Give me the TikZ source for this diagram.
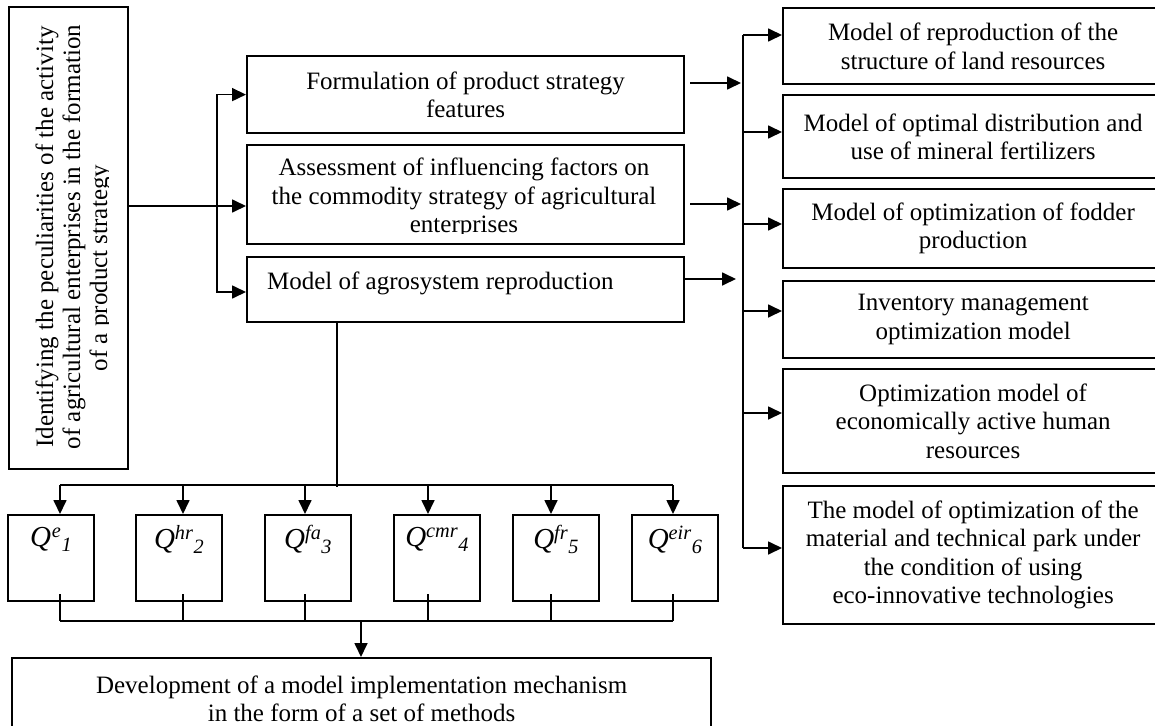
\documentclass[tikz,border=0pt]{standalone}
\usepackage{fontspec}
\setmainfont{Liberation Serif}
\usetikzlibrary{arrows.meta}
\begin{document}
\begin{tikzpicture}[x=1pt,y=-1pt,
  txt/.style={font=\fontsize{25}{28.5}\selectfont},
  box/.style={draw,line width=2.2pt,inner sep=0pt,align=center,anchor=north west,txt},
  conn/.style={line width=1.7pt},
  arr/.style={conn,-{Triangle[length=14pt,width=13pt]}},
  qbox/.style={box,minimum width=86pt,minimum height=86pt,font=\fontsize{29}{30}\selectfont\itshape,text depth=42pt}
]
\useasboundingbox (0,0) rectangle (1155,725);
\clip (0,0) rectangle (1155,725);
% left box
\node[box,minimum width=119pt,minimum height=462pt] (L) at (8,6) {};
\begin{scope}
\clip (10,8) rectangle (108,466);
\node[rotate=90,align=center,font=\fontsize{25}{27}\selectfont] (Lt) at (74,237)
 {Identifying the peculiarities of the activity\\of agricultural enterprises in the formation\\of a product strategy\makebox[62pt]{}};
\end{scope}
% middle boxes
\node[box,minimum width=437pt,minimum height=77pt] (b1) at (246,55) {Formulation of product strategy\\features};
\node[box,minimum width=437pt,minimum height=99pt] (b2) at (246,144) {};
\begin{scope}
\clip (248,146) rectangle (681,233);
\node[align=center,txt] (b2t) at (464,198) {Assessment of influencing factors on\\the commodity strategy of agricultural\\enterprises};
\end{scope}
\node[box,minimum width=437pt,minimum height=65pt,text width=397pt,align=flush left,text depth=18pt] (b3) at (246,256) {Model of agrosystem reproduction};
% right boxes
\node[box,minimum width=380pt,minimum height=76pt] (R1) at (782,7) {Model of reproduction of the\\structure of land resources};
\node[box,minimum width=380pt,minimum height=83pt] (R2) at (782,94) {Model of optimal distribution and\\use of mineral fertilizers};
\node[box,minimum width=380pt,minimum height=79pt] (R3) at (782,188) {Model of optimization of fodder\\production};
\node[box,minimum width=380pt,minimum height=77pt] (R4) at (782,280) {Inventory management\\optimization model};
\node[box,minimum width=380pt,minimum height=104pt] (R5) at (782,368) {Optimization model of\\economically active human\\resources};
\node[box,minimum width=380pt,minimum height=138pt] (R6) at (782,485) {The model of optimization of the\\material and technical park under\\the condition of using\\eco-innovative technologies};
% Q boxes
\node[qbox] (Q1) at (7,514) {Q\textsuperscript{\kern1pt e}\textsubscript{1}};
\node[qbox] (Q2) at (135,514) {Q\textsuperscript{hr}\textsubscript{2}};
\node[qbox] (Q3) at (264,514) {Q\textsuperscript{fa}\textsubscript{3}};
\node[qbox] (Q4) at (393,514) {Q\textsuperscript{cmr}\textsubscript{4}};
\node[qbox] (Q5) at (512,514) {Q\textsuperscript{fr}\textsubscript{5}};
\node[qbox] (Q6) at (631,514) {Q\textsuperscript{eir}\textsubscript{6}};
% bottom box
\node[box,minimum width=699pt,minimum height=81pt] (B) at (11,657) {Development of a model implementation mechanism\\in the form of a set of methods};
% left connectors
\coordinate (j) at (217,206);
\coordinate (j3) at (217,292);
\draw[arr] (L.east |- j) -- (b2.west |- j);
\draw[arr] (j) |- (b1.west);
\draw[arr] (j) -- (j3) -- (j3 -| b3.west);
% middle to right
\coordinate (m1) at (741,83);
\coordinate (m2) at (741,204);
\coordinate (m3) at (736,279);
\draw[arr,shorten <=5pt] (b1.east |- m1) -- (m1);
\draw[arr,shorten <=5pt] (b2.east |- m2) -- (m2);
\draw[arr] (b3.east |- m3) -- (m3);
% right bus
\coordinate (r1) at (743,35);
\coordinate (r2) at (743,132);
\coordinate (r3) at (743,224);
\coordinate (r4) at (743,311);
\coordinate (r5) at (743,413);
\coordinate (r6) at (743,548);
\draw[conn] (r1) -- (r6);
\foreach \i in {1,...,6} {\draw[arr] (r\i) -- (r\i -| R\i.west);}
% down to Q
\coordinate (d) at (337,487);
\draw[conn] (b3.south -| d) -- (d);
\coordinate (t1) at (60,485);
\coordinate (t2) at (183,485);
\coordinate (t3) at (305,485);
\coordinate (t4) at (428,485);
\coordinate (t5) at (551,485);
\coordinate (t6) at (673,485);
\draw[conn] (t1) -- (t6);
\foreach \i in {1,...,6} {\draw[arr] (t\i) -- (t\i |- Q\i.north);}
% Q to bottom
\foreach \i/\x in {1/60,2/183,3/305,4/428,5/551,6/673} {\coordinate (u\i) at (\x,621);}
\foreach \i in {1,...,6} {\draw[conn,shorten <=-8pt] (u\i |- Q\i.south) -- (u\i);}
\draw[conn] (u1) -- (u6);
\coordinate (w) at (361,621);
\draw[arr] (w) -- (w |- B.north);
\end{tikzpicture}
\end{document}
